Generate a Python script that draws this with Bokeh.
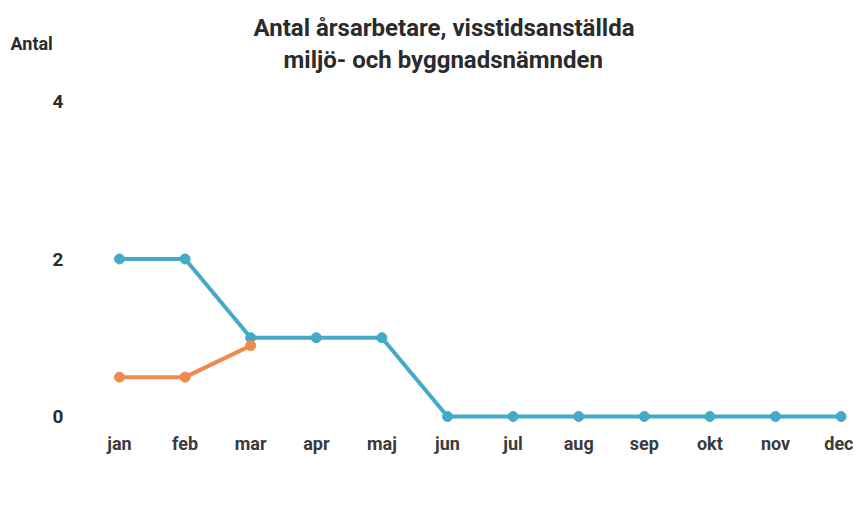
from bokeh.plotting import figure
from bokeh.models import Legend, LegendItem, FixedTicker, Range1d, Title
from bokeh.embed import file_html
from bokeh.resources import INLINE

months = ["jan", "feb", "mar", "apr", "maj", "jun", "jul", "aug", "sep", "okt", "nov", "dec"]
v2020 = [2, 2, 1, 1, 1, 0, 0, 0, 0, 0, 0, 0]
v2021 = [0.5, 0.5, 0.9]
y_ticks = [0, 2, 4]

FONT = "Roboto"
DARK = "#2b2b2b"
C2020 = "#45a9c8"
C2021 = "#ef8a4f"

x2020 = list(range(len(v2020)))
x2021 = list(range(len(v2021)))

p = figure(frame_width=773, frame_height=330, output_backend="svg", toolbar_location=None,
           x_range=Range1d(-0.5945, 11.189), y_range=Range1d(-0.114, 4.076),
           min_border_left=80, min_border_right=0, min_border_top=95, min_border_bottom=0)
p.outline_line_color = None
p.grid.grid_line_color = None

t2 = Title(text="miljö- och byggnadsnämnden", standoff=44, align="left", offset=203,
           text_font=FONT, text_font_size="24px", text_font_style="bold", text_color=DARK)
t_antal = Title(text="Antal", standoff=-64, align="left", offset=-70,
                text_font=FONT, text_font_size="18px", text_font_style="bold", text_color=DARK)
t1 = Title(text="Antal årsarbetare, visstidsanställda", standoff=-40, align="left", offset=173,
           text_font=FONT, text_font_size="24px", text_font_style="bold", text_color=DARK)
p.add_layout(t2, "above")
p.add_layout(t_antal, "above")
p.add_layout(t1, "above")

r1_line = p.line(x2020, v2020, line_color=C2020, line_width=4)
r1_pts = p.scatter(x2020, v2020, size=10, fill_color=C2020, line_color=C2020)
r2_line = p.line(x2021, v2021, line_color=C2021, line_width=4)
r2_pts = p.scatter(x2021, v2021, size=10, fill_color=C2021, line_color=C2021)

p.xaxis.ticker = FixedTicker(ticks=x2020)
p.xaxis.major_label_overrides = {i: m for i, m in enumerate(months)}
p.yaxis.ticker = FixedTicker(ticks=y_ticks)
for ax in (p.xaxis, p.yaxis):
    ax.axis_line_color = None
    ax.major_tick_line_color = None
    ax.minor_tick_line_color = None
    ax.major_label_text_font = FONT
    ax.major_label_text_font_style = "bold"
    ax.major_label_text_color = DARK
p.xaxis.major_label_text_font_size = "18px"
p.xaxis.major_label_text_color = "#3a3a3a"
p.xaxis.major_label_standoff = 1
p.xaxis.axis_label = " "
p.xaxis.axis_label_text_font_size = "14px"
p.xaxis.axis_label_standoff = 10
p.yaxis.major_label_text_font_size = "19px"
p.yaxis.major_label_standoff = 11

legend = Legend(items=[LegendItem(label="2020", renderers=[r1_line, r1_pts]),
                       LegendItem(label="2021", renderers=[r2_line, r2_pts])],
                orientation="horizontal", location="top_center",
                label_text_font=FONT, label_text_font_size="19px", label_text_font_style="bold",
                label_text_color=DARK, border_line_color=None, glyph_width=53,
                spacing=16, label_standoff=3, padding=2, margin=0)
p.add_layout(legend, "below")

open("out.html", "w").write(file_html(p, INLINE))
